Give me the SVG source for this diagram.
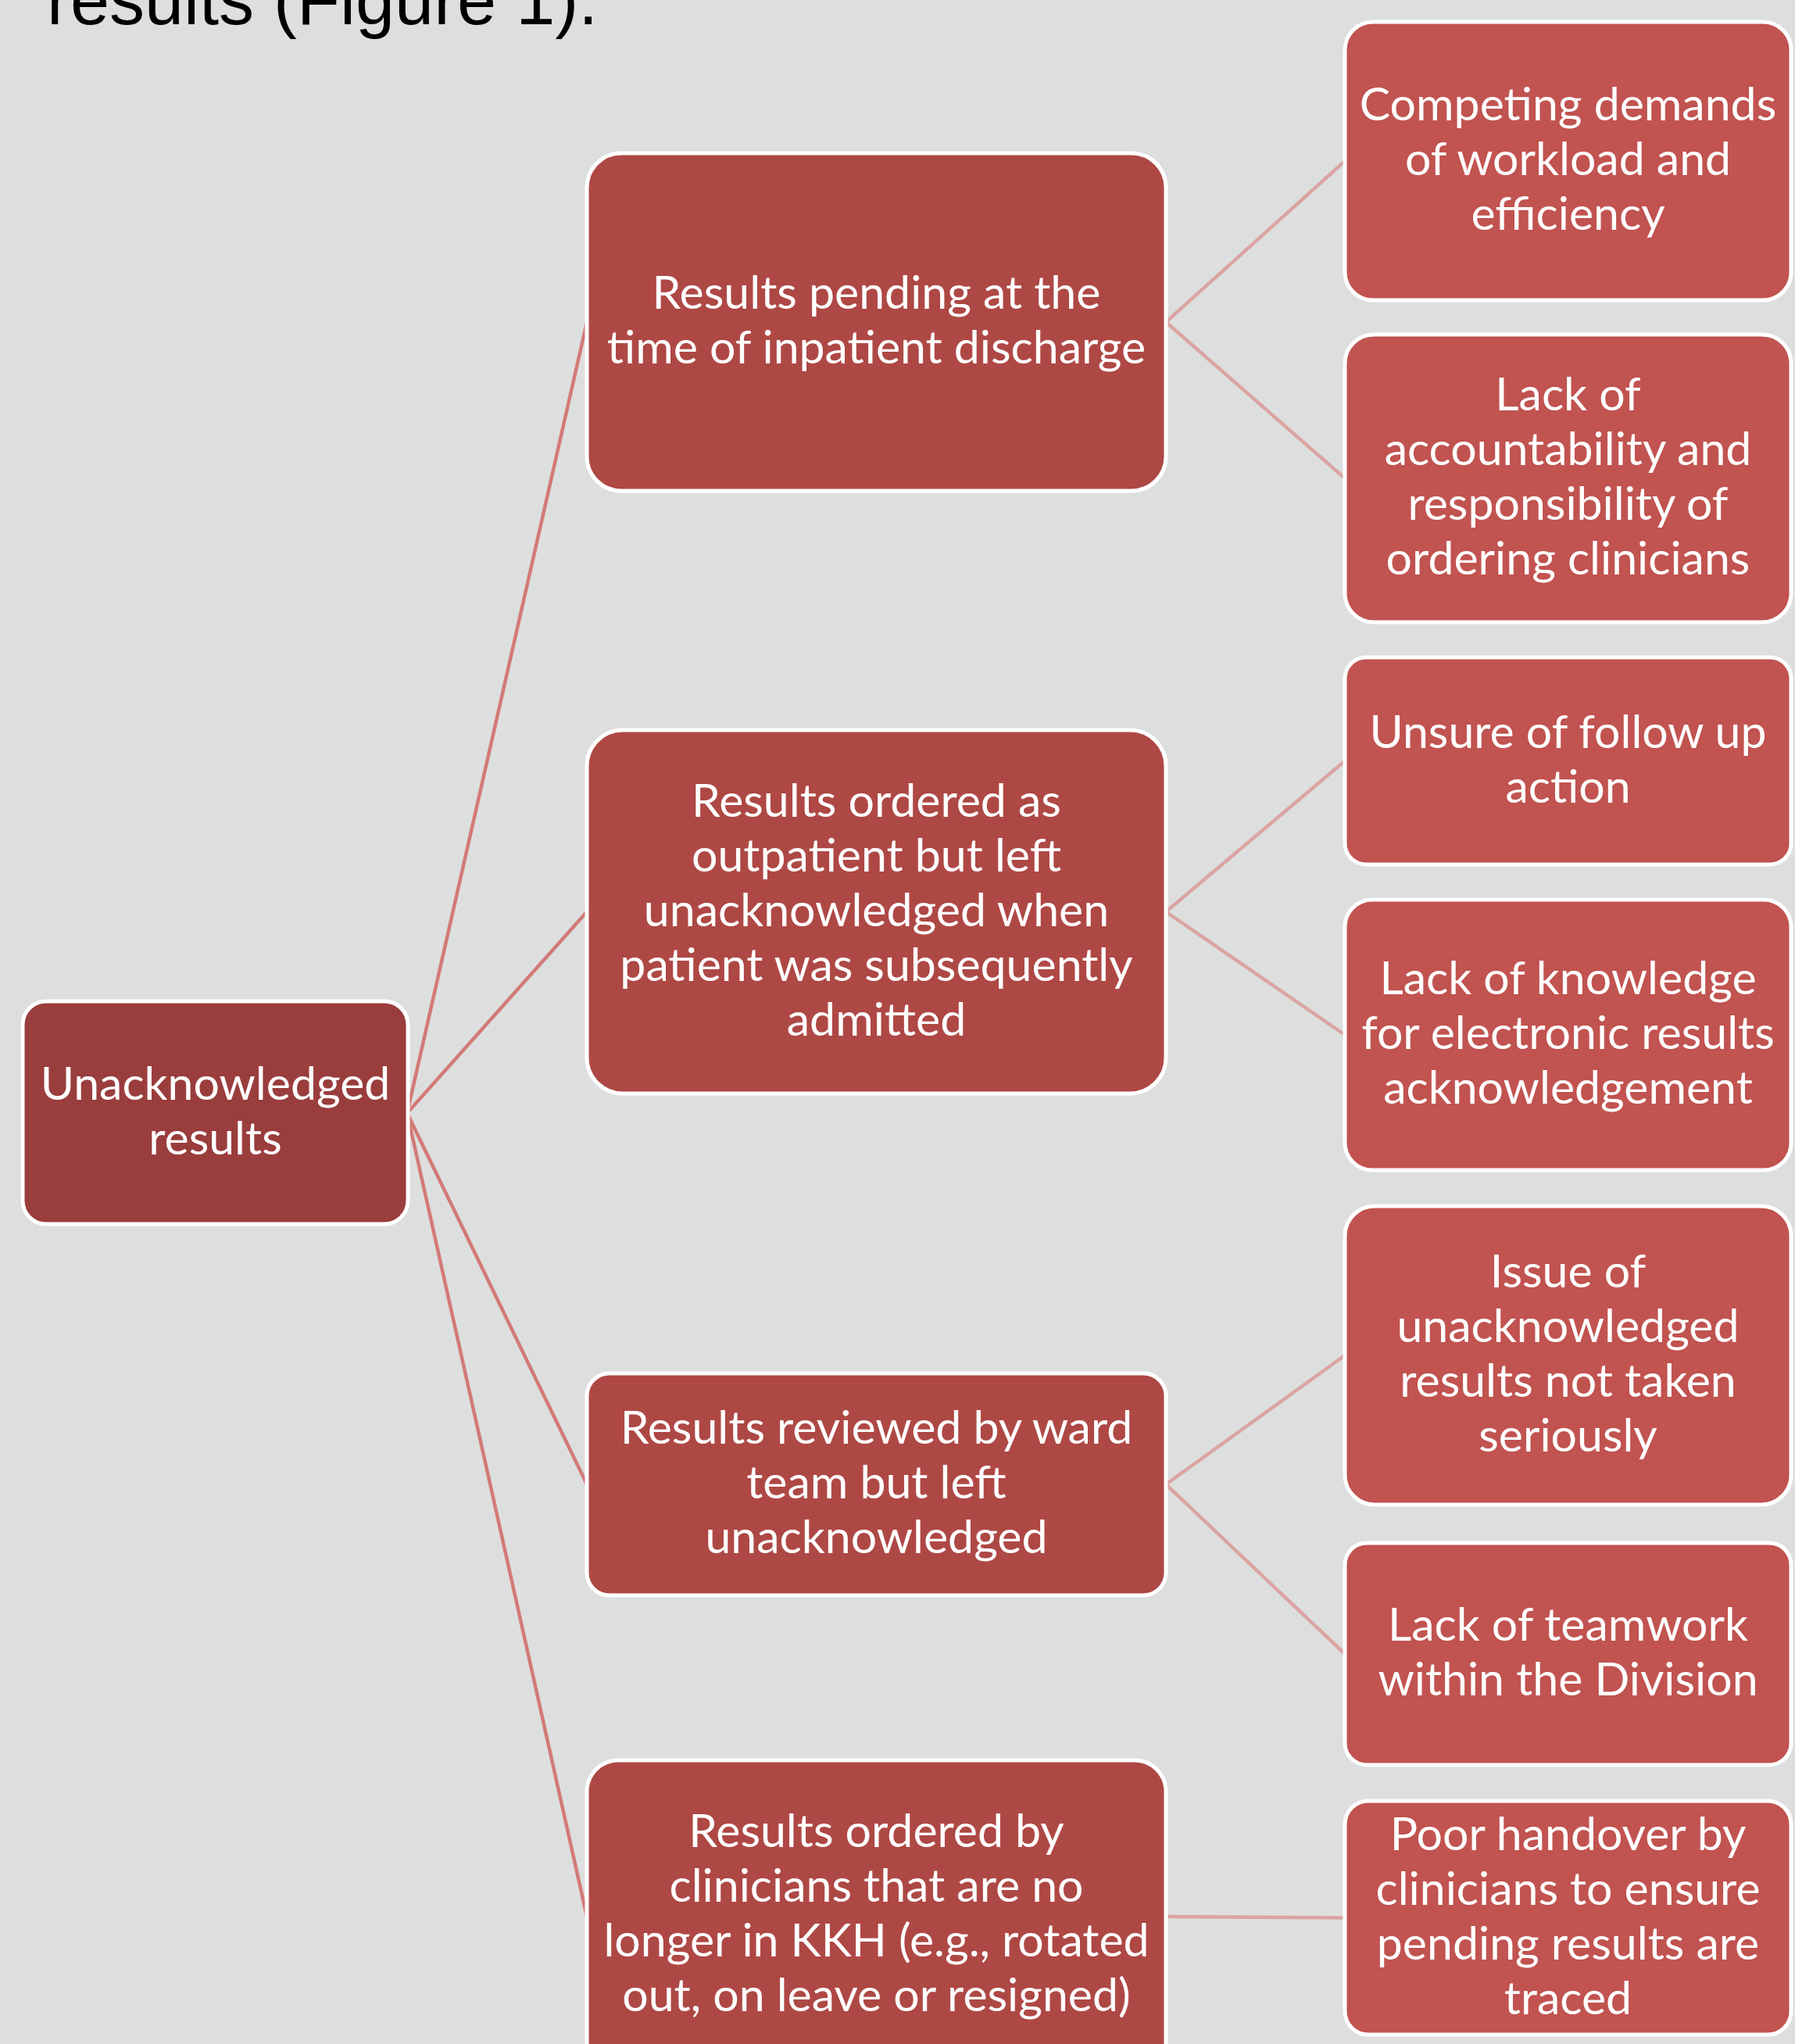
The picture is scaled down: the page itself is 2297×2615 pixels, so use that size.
<svg xmlns="http://www.w3.org/2000/svg" width="2297" height="2615" viewBox="0 0 2297 2615">
<style>
.bg{fill:#DDDFDE}
.box{stroke:#FFFFFF;stroke-width:5}
.l1{fill:#9A3D3D}
.l2{fill:#AE4845}
.l3{fill:#C15350}
.t{font-family:Lato,"Open Sans","Noto Sans",sans-serif;font-size:59px;fill:#FFFFFF;text-anchor:middle}
.c1{stroke:#D27A77;stroke-width:4.5;fill:none}
.c2{stroke:#DAA4A3;stroke-width:4.5;fill:none}
.title{font-family:"Liberation Sans",Arial,sans-serif;font-size:90px;fill:#000000}
</style>
<rect class="bg" x="0" y="0" width="2297" height="2615"/>
<text class="title" x="60" y="31">results (Figure 1).</text>
<g id="connectors">
<line class="c1" x1="521" y1="1424" x2="751" y2="412"/>
<line class="c1" x1="521" y1="1424" x2="751" y2="1166.5"/>
<line class="c1" x1="521" y1="1424" x2="751" y2="1899"/>
<line class="c1" x1="521" y1="1424" x2="751" y2="2452"/>
<line class="c2" x1="1492" y1="412" x2="1721" y2="206"/>
<line class="c2" x1="1492" y1="412" x2="1721" y2="612"/>
<line class="c2" x1="1492" y1="1166.5" x2="1721" y2="973.5"/>
<line class="c2" x1="1492" y1="1166.5" x2="1721" y2="1324"/>
<line class="c2" x1="1492" y1="1899" x2="1721" y2="1734"/>
<line class="c2" x1="1492" y1="1899" x2="1721" y2="2116"/>
<line class="c2" x1="1492" y1="2452" x2="1721" y2="2453.5"/>
</g>
<g id="root">
<rect class="box l1" x="29" y="1281" width="493" height="285" rx="30"/>
<text class="t"><tspan x="275.5" y="1406.5">Unacknowledged</tspan><tspan x="275.5" y="1476.5">results</tspan></text>
</g>
<g id="cause1">
<rect class="box l2" x="751" y="196" width="741" height="432" rx="44"/>
<text class="t"><tspan x="1121.5" y="395">Results pending at the</tspan><tspan x="1121.5" y="465">time of inpatient discharge</tspan></text>
</g>
<g id="cause2">
<rect class="box l2" x="751" y="934" width="741" height="465" rx="46"/>
<text class="t"><tspan x="1121.5" y="1044.5">Results ordered as</tspan><tspan x="1121.5" y="1114.5">outpatient but left</tspan><tspan x="1121.5" y="1184.5">unacknowledged when</tspan><tspan x="1121.5" y="1254.5">patient was subsequently</tspan><tspan x="1121.5" y="1324.5">admitted</tspan></text>
</g>
<g id="cause3">
<rect class="box l2" x="751" y="1757" width="741" height="284" rx="29"/>
<text class="t"><tspan x="1121.5" y="1847">Results reviewed by ward</tspan><tspan x="1121.5" y="1917">team but left</tspan><tspan x="1121.5" y="1987">unacknowledged</tspan></text>
</g>
<g id="cause4">
<rect class="box l2" x="751" y="2252" width="741" height="400" rx="40"/>
<text class="t"><tspan x="1121.5" y="2363">Results ordered by</tspan><tspan x="1121.5" y="2433">clinicians that are no</tspan><tspan x="1121.5" y="2503">longer in KKH (e.g., rotated</tspan><tspan x="1121.5" y="2573">out, on leave or resigned)</tspan></text>
</g>
<g id="factor1">
<rect class="box l3" x="1721" y="28" width="571" height="356" rx="36"/>
<text class="t"><tspan x="2006.5" y="154">Competing demands</tspan><tspan x="2006.5" y="224">of workload and</tspan><tspan x="2006.5" y="294">efficiency</tspan></text>
</g>
<g id="factor2">
<rect class="box l3" x="1721" y="428" width="571" height="368" rx="37"/>
<text class="t"><tspan x="2006.5" y="525">Lack of</tspan><tspan x="2006.5" y="595">accountability and</tspan><tspan x="2006.5" y="665">responsibility of</tspan><tspan x="2006.5" y="735">ordering clinicians</tspan></text>
</g>
<g id="factor3">
<rect class="box l3" x="1721" y="841" width="571" height="265" rx="27"/>
<text class="t"><tspan x="2006.5" y="956.5">Unsure of follow up</tspan><tspan x="2006.5" y="1026.5">action</tspan></text>
</g>
<g id="factor4">
<rect class="box l3" x="1721" y="1151" width="571" height="346" rx="35"/>
<text class="t"><tspan x="2006.5" y="1272">Lack of knowledge</tspan><tspan x="2006.5" y="1342">for electronic results</tspan><tspan x="2006.5" y="1412">acknowledgement</tspan></text>
</g>
<g id="factor5">
<rect class="box l3" x="1721" y="1543" width="571" height="382" rx="38"/>
<text class="t"><tspan x="2006.5" y="1647">Issue of</tspan><tspan x="2006.5" y="1717">unacknowledged</tspan><tspan x="2006.5" y="1787">results not taken</tspan><tspan x="2006.5" y="1857">seriously</tspan></text>
</g>
<g id="factor6">
<rect class="box l3" x="1721" y="1974" width="571" height="284" rx="28"/>
<text class="t"><tspan x="2006.5" y="2099">Lack of teamwork</tspan><tspan x="2006.5" y="2169">within the Division</tspan></text>
</g>
<g id="factor7">
<rect class="box l3" x="1721" y="2304" width="571" height="299" rx="30"/>
<text class="t"><tspan x="2006.5" y="2366.5">Poor handover by</tspan><tspan x="2006.5" y="2436.5">clinicians to ensure</tspan><tspan x="2006.5" y="2506.5">pending results are</tspan><tspan x="2006.5" y="2576.5">traced</tspan></text>
</g>
</svg>
